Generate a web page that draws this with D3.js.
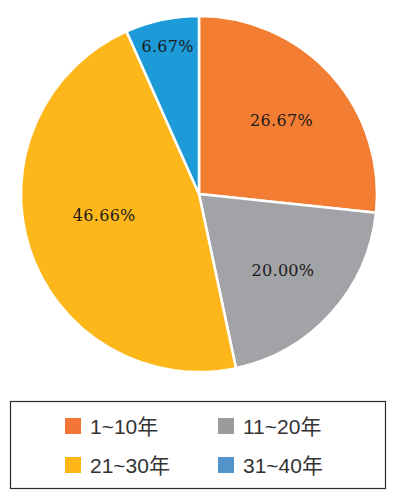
<!DOCTYPE html>
<html lang="zh">
<head>
  <meta charset="UTF-8">
  <title>工龄分布</title>
  <script src="https://d3js.org/d3.v7.min.js"></script>
  <style>
    body {
      background: #fff;
      margin: 0;
    }
  </style>
</head>
<body>
  <script>
    var categories = ["1~10年", "11~20年", "21~30年", "31~40年"];
    var values = [26.67, 20.00, 46.66, 6.67];
    var labels = ["26.67%", "20.00%", "46.66%", "6.67%"];
    var sliceColors = ["#f37e33", "#a2a3a6", "#fdb71b", "#1c9bd8"];
    var legendColors = ["#f47535", "#9b9b9d", "#feb518", "#5294c9"];

    var width = 397, height = 501;
    var cx = 199, cy = 194, radius = 178;

    var svg = d3.select("body").append("svg")
      .attr("width", width)
      .attr("height", height);

    var pie = d3.pie()
      .sort(null)
      .value(function(d) { return d; });

    var arcs = pie(values);

    var arc = d3.arc()
      .innerRadius(0)
      .outerRadius(radius);

    var g = svg.append("g")
      .attr("transform", "translate(" + cx + "," + cy + ")");

    g.selectAll("path")
      .data(arcs)
      .enter()
      .append("path")
      .attr("d", arc)
      .attr("fill", function(d, i) { return sliceColors[i]; })
      .attr("stroke", "#fff")
      .attr("stroke-width", 2.5)
      .attr("stroke-linejoin", "round");

    // label distance from centre, tuned per slice like the original
    var labelR = [111, 113, 97, 151];
    var labelShift = [0, 0, 0.1, 0];

    g.selectAll(".label")
      .data(arcs)
      .enter()
      .append("text")
      .attr("font-family", "'DejaVu Serif', serif")
      .attr("font-size", 16)
      .attr("letter-spacing", 0.3)
      .attr("text-anchor", "middle")
      .attr("fill", "#1a1a1a")
      .attr("x", function(d, i) {
        var a = (d.startAngle + d.endAngle) / 2 + labelShift[i];
        return Math.sin(a) * labelR[i];
      })
      .attr("y", function(d, i) {
        var a = (d.startAngle + d.endAngle) / 2 + labelShift[i];
        return -Math.cos(a) * labelR[i] + 6;
      })
      .text(function(d, i) { return labels[i]; });

    // legend
    var legend = svg.append("g");

    legend.append("rect")
      .attr("x", 10.5)
      .attr("y", 401.5)
      .attr("width", 375)
      .attr("height", 87)
      .attr("fill", "none")
      .attr("stroke", "#2b2b2b")
      .attr("stroke-width", 1.2);

    var colX = d3.scaleOrdinal().domain([0, 1]).range([65, 218]);
    var rowY = d3.scaleOrdinal().domain([0, 1]).range([418, 457]);

    var item = legend.selectAll(".item")
      .data(categories)
      .enter()
      .append("g")
      .attr("transform", function(d, i) {
        return "translate(" + colX(i % 2) + "," + rowY(Math.floor(i / 2)) + ")";
      });

    item.append("rect")
      .attr("width", 16)
      .attr("height", 16)
      .attr("fill", function(d, i) { return legendColors[i]; });

    item.append("text")
      .attr("font-family", "'Liberation Sans', Arial, 'Noto Sans CJK SC', sans-serif")
      .attr("font-size", 21)
      .attr("fill", "#333")
      .attr("x", 25)
      .attr("y", 16)
      .text(function(d) { return d; });
  </script>
</body>
</html>
